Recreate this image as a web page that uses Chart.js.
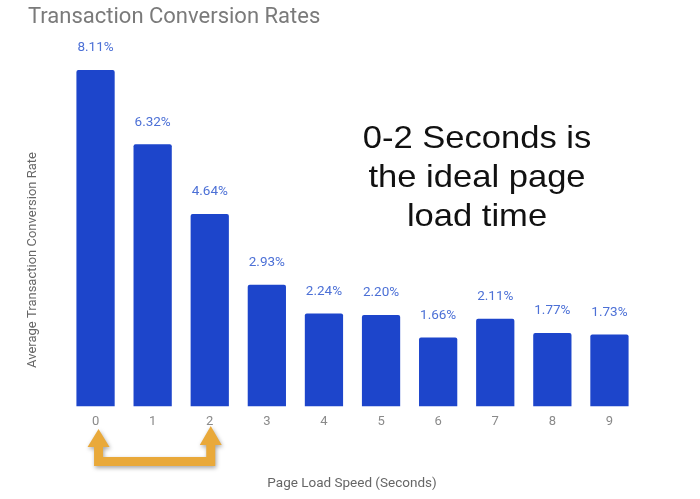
<!DOCTYPE html>
<html>
<head>
<meta charset="utf-8">
<script src="https://cdn.jsdelivr.net/npm/chart.js@4"></script>
<style>
  html, body { margin: 0; padding: 0; background: #fff; }
  #wrap { width: 700px; height: 499px; }
</style>
</head>
<body>
<div id="wrap"><canvas id="rateChart"></canvas></div>
<script>
// data
const loadSeconds = ['0', '1', '2', '3', '4', '5', '6', '7', '8', '9'];
const conversionRates = [8.11, 6.32, 4.64, 2.93, 2.24, 2.20, 1.66, 2.11, 1.77, 1.73];

const chartTitle = 'Transaction Conversion Rates';
const xTitle = 'Page Load Speed (Seconds)';
const yTitle = 'Average Transaction Conversion Rate';
const noteLines = ['0-2 Seconds is', 'the ideal page', 'load time'];

const barBlue = '#1d45cb';
const labelBlue = '#4c70d6';
const font = 'Roboto, "Noto Sans", sans-serif';

// value labels, titles, note and the orange arrow
const extrasPlugin = {
    id: 'extras',
    afterDatasetsDraw(chart) {
        const ctx = chart.ctx;
        const meta = chart.getDatasetMeta(0);
        const xs = chart.scales.x;

        ctx.save();
        ctx.fillStyle = labelBlue;
        ctx.font = '13.5px ' + font;
        ctx.textAlign = 'center';
        ctx.textBaseline = 'middle';
        meta.data.forEach((bar, i) => {
            ctx.fillText(conversionRates[i].toFixed(2) + '%', bar.x, bar.y - 22);
        });

        // chart title
        ctx.fillStyle = '#7a7a7a';
        ctx.font = '22px ' + font;
        ctx.textAlign = 'left';
        ctx.fillText(chartTitle, 28, 17);

        // axis titles
        ctx.fillStyle = '#666';
        ctx.font = '13.5px ' + font;
        ctx.textAlign = 'center';
        ctx.fillText(xTitle, 352, 484);
        ctx.save();
        ctx.translate(33, 260);
        ctx.rotate(-Math.PI / 2);
        ctx.font = '13px ' + font;
        ctx.fillText(yTitle, 0, 0);
        ctx.restore();

        // note text
        ctx.fillStyle = '#111';
        ctx.font = '32px "Liberation Sans", Arial, sans-serif';
        noteLines.forEach((line, i) => {
            ctx.save();
            ctx.translate(477, 139 + i * 39);
            ctx.scale(1.08, 1);
            ctx.fillText(line, 0, 0);
            ctx.restore();
        });

        // orange arrow under 0 .. 2
        const x0 = xs.getPixelForValue(0) + 3;
        const x2 = xs.getPixelForValue(2) + 1;
        ctx.shadowColor = 'rgba(0,0,0,0.35)';
        ctx.shadowBlur = 4;
        ctx.shadowOffsetX = 1;
        ctx.shadowOffsetY = 2;
        ctx.fillStyle = '#e9a93a';
        const shaft = 9;
        const barTop = 457, barBottom = 466;
        ctx.beginPath();
        ctx.moveTo(x0, 429);
        ctx.lineTo(x0 + 11, 447);
        ctx.lineTo(x0 + shaft / 2, 447);
        ctx.lineTo(x0 + shaft / 2, barTop);
        ctx.lineTo(x2 - shaft / 2, barTop);
        ctx.lineTo(x2 - shaft / 2, 445);
        ctx.lineTo(x2 - 11, 445);
        ctx.lineTo(x2, 426);
        ctx.lineTo(x2 + 11, 445);
        ctx.lineTo(x2 + shaft / 2, 445);
        ctx.lineTo(x2 + shaft / 2, barBottom);
        ctx.lineTo(x0 - shaft / 2, barBottom);
        ctx.lineTo(x0 - shaft / 2, 447);
        ctx.lineTo(x0 - 11, 447);
        ctx.closePath();
        ctx.fill();
        ctx.restore();
    }
};

new Chart(document.getElementById('rateChart'), {
    type: 'bar',
    data: {
        labels: loadSeconds,
        datasets: [{
            data: conversionRates,
            backgroundColor: barBlue,
            borderRadius: 2,
            borderSkipped: 'bottom',
            categoryPercentage: 1,
            barPercentage: 0.67
        }]
    },
    options: {
        responsive: true,
        maintainAspectRatio: false,
        animation: false,
        layout: {
            padding: { left: 67, right: 62, top: 33, bottom: 69 }
        },
        plugins: {
            legend: { display: false },
            title: { display: false },
            tooltip: { enabled: false }
        },
        scales: {
            x: {
                grid: { display: false },
                border: { display: false },
                ticks: {
                    color: '#8a8a8a',
                    font: { size: 13, family: font },
                    padding: 0
                }
            },
            y: {
                display: false,
                min: 0,
                max: 9
            }
        }
    },
    plugins: [extrasPlugin]
});
</script>
</body>
</html>
